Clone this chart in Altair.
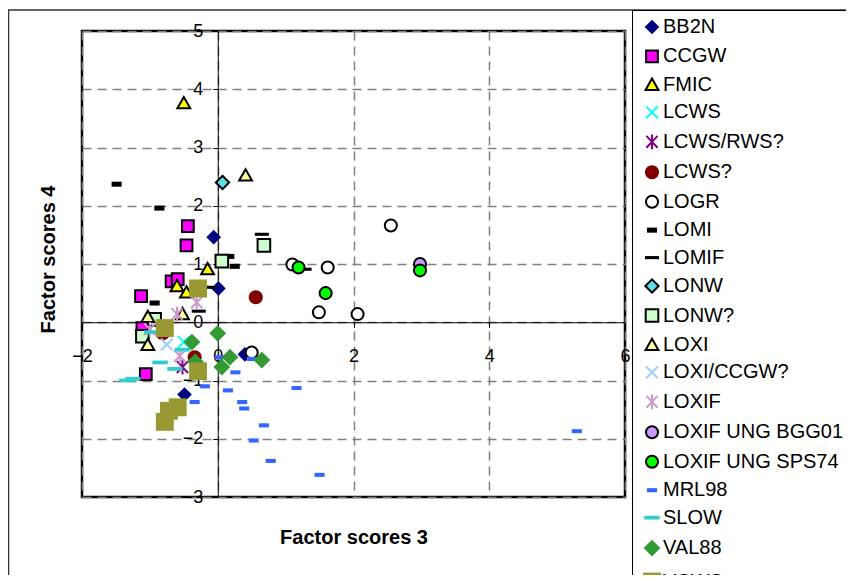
import altair as alt
import pandas as pd

# ---- data ----
SERIES = ["BB2N", "CCGW", "FMIC", "LCWS", "LCWS/RWS?", "LCWS?", "LOGR", "LOMI",
          "LOMIF", "LONW", "LONW?", "LOXI", "LOXI/CCGW?", "LOXIF",
          "LOXIF UNG BGG01", "LOXIF UNG SPS74", "MRL98", "SLOW", "VAL88", "VCWS"]

BB2N_x = [-0.06, 0.01, 0.40, -0.49]
BB2N_y = [1.46, 0.58, -0.55, -1.24]
CCGW_x = [-0.44, -0.46, -0.68, -0.59, -1.13, -1.11, -1.06]
CCGW_y = [1.65, 1.32, 0.70, 0.74, 0.45, -0.10, -0.89]
FMIC_x = [-0.50, -0.15, -0.60, -0.46]
FMIC_y = [3.76, 0.91, 0.62, 0.51]
LCWS_x = [-0.50]
LCWS_y = [-0.34]
LCWS_RWS_x = [-0.52]
LCWS_RWS_y = [-0.77]
LCWSq_x = [0.56, -0.34, -0.81]
LCWSq_y = [0.43, -0.60, -0.19]
LOGR_x = [2.55, 1.10, 1.62, 1.49, 2.06, 0.50]
LOGR_y = [1.66, 0.99, 0.94, 0.17, 0.14, -0.52]
LOMI_x = [-1.49, -0.86, -0.93, 0.25, 0.17]
LOMI_y = [2.37, 1.96, 0.33, 0.96, 1.13]
LOMIF_x = [0.65, -0.28, 1.28, -0.12]
LOMIF_y = [1.51, 0.19, 0.91, 0.60]
LONW_x = [0.07]
LONW_y = [2.40]
LONWq_x = [0.68, 0.06, -0.93, -1.11]
LONWq_y = [1.32, 1.05, 0.05, -0.24]
LOXI_x = [0.41, -0.52, -1.03, -1.03]
LOXI_y = [2.52, 0.14, 0.09, -0.39]
LOXI_CCGW_x = [-0.75]
LOXI_CCGW_y = [-0.38]
LOXIF_x = [-0.31, -0.60, -1.00, -0.56]
LOXIF_y = [0.34, 0.14, -0.12, -0.58]
BGG01_x = [2.98]
BGG01_y = [1.00]
SPS74_x = [1.19, 1.59, 2.98]
SPS74_y = [0.94, 0.50, 0.89]
MRL98_x = [-0.19, 0.15, 0.26, 1.16, 0.36, 0.39, 0.68, 0.53, 0.78, 1.50, 0.03, 0.50, 5.29, -0.34]
MRL98_y = [-1.10, -1.17, -0.86, -1.13, -1.37, -1.48, -1.77, -2.03, -2.38, -2.62, -0.60, -0.63, -1.87, -1.37]
SLOW_x = [-1.34, -1.25, -0.85, -0.63, -0.52, -0.97]
SLOW_y = [-1.00, -0.97, -0.69, -0.80, -0.47, -0.17]
VAL88_x = [0.00, -0.38, 0.18, 0.06, 0.65, -0.33]
VAL88_y = [-0.19, -0.34, -0.60, -0.77, -0.65, -0.68]
VCWS_x = [-0.29, -0.78, -0.29, -0.59, -0.72, -0.78]
VCWS_y = [0.58, -0.10, -0.84, -1.46, -1.52, -1.71]

XS = [BB2N_x, CCGW_x, FMIC_x, LCWS_x, LCWS_RWS_x, LCWSq_x, LOGR_x, LOMI_x, LOMIF_x,
      LONW_x, LONWq_x, LOXI_x, LOXI_CCGW_x, LOXIF_x, BGG01_x, SPS74_x, MRL98_x,
      SLOW_x, VAL88_x, VCWS_x]
YS = [BB2N_y, CCGW_y, FMIC_y, LCWS_y, LCWS_RWS_y, LCWSq_y, LOGR_y, LOMI_y, LOMIF_y,
      LONW_y, LONWq_y, LOXI_y, LOXI_CCGW_y, LOXIF_y, BGG01_y, SPS74_y, MRL98_y,
      SLOW_y, VAL88_y, VCWS_y]

# ---- marker styles ----
def sq(h):
    return f"M{-h},{-h}H{h}V{h}H{-h}Z"

def rect(w, h):
    return f"M{-w},{-h}H{w}V{h}H{-w}Z"

def dia(h):
    return f"M0,{-h}L{h},0L0,{h}L{-h},0Z"

def circ(r):
    return f"M{-r},0A{r},{r},0,1,0,{r},0A{r},{r},0,1,0,{-r},0Z"

TRI = "M0,-0.9L0.92,0.72L-0.92,0.72Z"
XMARK = "M-0.85,-0.85L0.85,0.85M-0.85,0.85L0.85,-0.85"
AST = "M-0.8,-0.85L0.8,0.85M-0.8,0.85L0.8,-0.85M0,-1.05L0,1.05"

SHAPES = [dia(1.05), sq(0.84), TRI, XMARK, AST, circ(1.0), circ(0.86), rect(0.72, 0.36),
          rect(1.0, 0.22), dia(0.95), sq(0.9), TRI, XMARK, AST, circ(0.86), circ(0.86),
          rect(0.72, 0.29), rect(1.1, 0.27), dia(1.2), sq(1.28)]
FILLS = ["#000080", "#FF00FF", "#FFFF00", "transparent", "transparent", "#800000",
         "#FFFFFF", "#000000", "#000000", "#5EE0E8", "#CCFFCC", "#FFFF99",
         "transparent", "transparent", "#CC99FF", "#00FF00", "#3366FF", "#33CCCC",
         "#339933", "#999933"]
STROKES = ["transparent", "#000000", "#000000", "#00FFFF", "#800080", "transparent",
           "#000000", "transparent", "transparent", "#000000", "#000000", "#000000",
           "#99CCFF", "#CC99CC", "#000000", "#000000", "transparent", "transparent",
           "transparent", "transparent"]

rows = []
for name, xs, ys in zip(SERIES, XS, YS):
    for x, y in zip(xs, ys):
        rows.append({"series": name, "x": x, "y": y})
df = pd.DataFrame(rows)

W, H = 543, 466
X0_PX = W * 2 / 8      # plot x of value 0
Y0_PX = H * 5 / 8      # plot y of value 0

legend = alt.Legend(orient="none", legendX=550, legendY=-21, padding=7,
                    strokeColor="black", symbolOffset=3, labelOffset=1,
                    labelFontSize=20, labelFont="Liberation Sans", labelColor="black",
                    labelLimit=400, rowPadding=7.45, symbolSize=196, symbolStrokeWidth=2)

points = alt.Chart(df).mark_point(size=196, strokeWidth=2, opacity=1, fillOpacity=1).encode(
    x=alt.X("x:Q", scale=alt.Scale(domain=[-2, 6], nice=False, zero=False),
            axis=alt.Axis(values=[-2, 0, 2, 4, 6], format="d", orient="bottom",
                          offset=-(H - Y0_PX), title="Factor scores 3",
                          titleX=W / 2, titleY=506 - Y0_PX, titleBaseline="middle",
                          titleFontSize=20, titleFontWeight="bold", titleColor="black",
                          labelFontSize=18, labelColor="black", labelPadding=20,
                          labelFlush=False, tickSize=5, tickColor="black",
                          domainColor="black", grid=True, gridDash=[9, 6],
                          gridColor="#808080", gridWidth=1.5)),
    y=alt.Y("y:Q", scale=alt.Scale(domain=[-3, 5], nice=False, zero=False),
            axis=alt.Axis(values=list(range(-3, 6)), format="d", orient="left",
                          offset=-X0_PX, title="Factor scores 4",
                          titleX=-(X0_PX + 34), titleY=228, titleBaseline="middle",
                          titleFontSize=20, titleFontWeight="bold", titleColor="black",
                          labelFontSize=18, labelColor="black", labelPadding=10,
                          labelFlush=False, tickSize=5, tickColor="black",
                          domainColor="black", grid=True, gridDash=[9, 6],
                          gridColor="#808080", gridWidth=1.5)),
    shape=alt.Shape("series:N", title=None,
                    scale=alt.Scale(domain=SERIES, range=SHAPES), legend=legend),
    fill=alt.Fill("series:N", title=None,
                  scale=alt.Scale(domain=SERIES, range=FILLS), legend=legend),
    stroke=alt.Stroke("series:N", title=None,
                      scale=alt.Scale(domain=SERIES, range=STROKES), legend=legend),
)

frame = alt.Chart(pd.DataFrame({"a": [0]})).mark_rect(
    fill="transparent", stroke="#333333", strokeWidth=1.5
).encode(x=alt.value(-73.5), x2=alt.value(900), y=alt.value(-21), y2=alt.value(547))

chart = alt.layer(frame, points).properties(
    width=W, height=H,
    autosize=alt.AutoSizeParams(type="none"),
    padding={"left": 74, "top": 23, "right": 221, "bottom": 78},
).configure(font="Liberation Sans").configure_view(stroke="black", strokeWidth=2.5)

chart.save("out.html", embed_options={"renderer": "svg", "actions": False})
